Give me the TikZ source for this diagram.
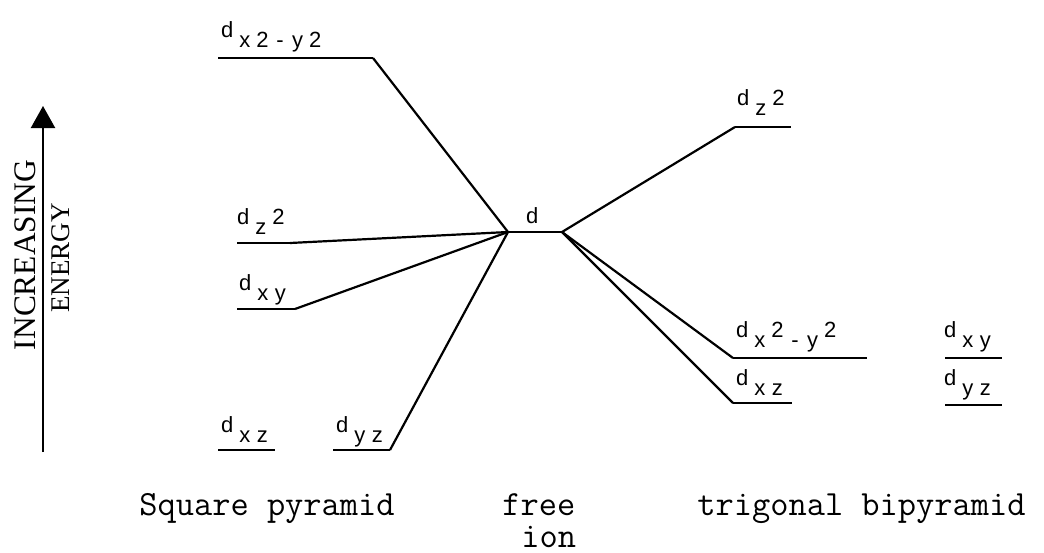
\documentclass[tikz,border=0pt]{standalone}
\usepackage{fontspec}
\setmainfont{Liberation Serif}
\newfontfamily\labfont{Liberation Sans}
\usetikzlibrary{arrows.meta}
\newcommand\cc[1]{\makebox[8.8pt]{#1}}
\newcommand\lo[1]{\raisebox{-5pt}{#1}}
\begin{document}
\begin{tikzpicture}[x=0.5pt,y=-0.5pt,
  level/.style={line width=1.2pt},
  conn/.style={line width=1.1pt},
  orb/.style={anchor=base west, inner sep=0pt, font=\fontsize{11}{12}\labfont},
  caption/.style={anchor=base west, inner sep=0pt, font=\fontsize{17.7}{20}\ttfamily}]
\fill[white] (0,0) rectangle (1044,552);
\useasboundingbox (0,0) rectangle (1044,552);

% energy arrow
\coordinate (ab) at (43,452);
\coordinate (at) at (43,106);
\draw[line width=1.1pt,-{Triangle[length=11pt,width=12pt]}] (ab) -- (at);
\node[rotate=90, inner sep=0pt, font=\fontsize{15.7}{18}\selectfont] (inc) at (25,255) {INCREASING};
\node[rotate=90, inner sep=0pt, font=\fontsize{13.5}{16}\selectfont] (en) at (61,258) {ENERGY};

% free ion
\coordinate (dL) at (508,232);
\coordinate (dR) at (562,232);
\draw[level] (dL) -- (dR);
\node[orb] (dlab) at (523,223) {\cc{d}};

% square pyramid
\coordinate (s1L) at (218,58);  \coordinate (s1R) at (373,58);
\coordinate (s2L) at (237,243); \coordinate (s2R) at (290,243);
\coordinate (s3L) at (237,309); \coordinate (s3R) at (295,309);
\coordinate (s4L) at (218,450); \coordinate (s4R) at (275,450);
\coordinate (s5L) at (333,450); \coordinate (s5R) at (390,450);
\draw[level] (s1L) -- (s1R);
\draw[level] (s2L) -- (s2R);
\draw[level] (s3L) -- (s3R);
\draw[level] (s4L) -- (s4R);
\draw[level] (s5L) -- (s5R);
\draw[conn] (s1R) -- (dL);
\draw[conn] (s2R) -- (dL);
\draw[conn] (s3R) -- (dL);
\draw[conn] (s5R) -- (dL);
\node[orb] (l1) at (218,37) {\cc{d}\lo{\cc{x}\cc{2}\cc{-}\cc{y}\cc{2}}};
\node[orb] (l2) at (234,224) {\cc{d}\lo{\cc{z}}\cc{2}};
\node[orb] (l3) at (236,290) {\cc{d}\lo{\cc{x}\cc{y}}};
\node[orb] (l4) at (218,432) {\cc{d}\lo{\cc{x}\cc{z}}};
\node[orb] (l5) at (333,432) {\cc{d}\lo{\cc{y}\cc{z}}};

% trigonal bipyramid
\coordinate (t1L) at (735,127); \coordinate (t1R) at (791,127);
\coordinate (t2L) at (733,358); \coordinate (t2R) at (867,358);
\coordinate (t3L) at (733,403); \coordinate (t3R) at (792,403);
\coordinate (t4L) at (945,358); \coordinate (t4R) at (1002,358);
\coordinate (t5L) at (945,405); \coordinate (t5R) at (1002,405);
\draw[level] (t1L) -- (t1R);
\draw[level] (t2L) -- (t2R);
\draw[level] (t3L) -- (t3R);
\draw[level] (t4L) -- (t4R);
\draw[level] (t5L) -- (t5R);
\draw[conn] (dR) -- (t1L);
\draw[conn] (dR) -- (t2L);
\draw[conn] (dR) -- (t3L);
\node[orb] (r1) at (734,105) {\cc{d}\lo{\cc{z}}\cc{2}};
\node[orb] (r2) at (733,337) {\cc{d}\lo{\cc{x}}\cc{2}\lo{\cc{-}\cc{y}}\cc{2}};
\node[orb] (r3) at (733,385) {\cc{d}\lo{\cc{x}\cc{z}}};
\node[orb] (r4) at (941,337) {\cc{d}\lo{\cc{x}\cc{y}}};
\node[orb] (r5) at (941,385) {\cc{d}\lo{\cc{y}\cc{z}}};

% captions
\node[caption] (csp) at (139,515) {Square pyramid};
\node[caption, text depth=0pt] (cfree) at (502,515) {free};
\node[caption] (cion) at (521,547) {ion};
\node[caption] (ctbp) at (697,515) {trigonal bipyramid};
\end{tikzpicture}
\end{document}
